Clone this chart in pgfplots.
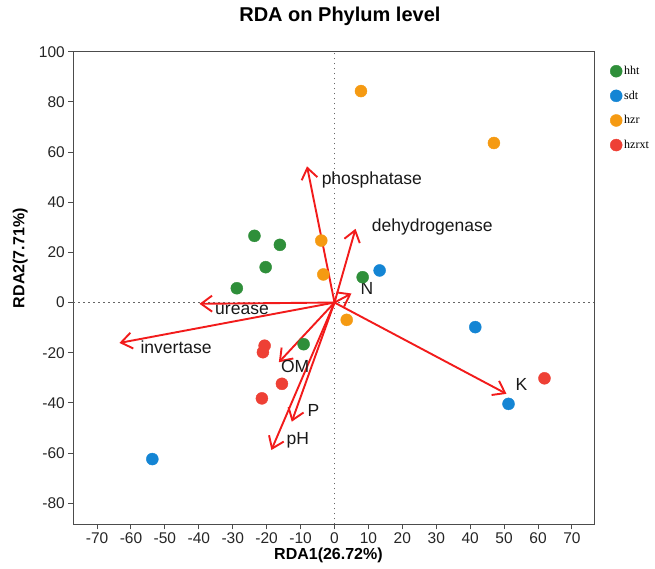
\documentclass[border=0pt]{standalone}
\usepackage{fontspec}
\setmainfont{Liberation Sans}
\newfontfamily\legfont{Liberation Serif}
\usepackage{pgfplots}
\pgfplotsset{compat=1.18}
\usetikzlibrary{arrows.meta}
\definecolor{cgreen}{HTML}{2F8F3A}
\definecolor{cblue}{HTML}{1485D4}
\definecolor{corange}{HTML}{F59A12}
\definecolor{cred}{HTML}{EE4035}
\definecolor{arrred}{HTML}{F21B1B}
\begin{document}
\begin{tikzpicture}[x=1pt,y=1pt,
  lab/.style={font=\fontsize{17.5}{20}\selectfont, text=black!90}]
\useasboundingbox (-73.3,-44.7) rectangle (581.7,524.3);
\begin{axis}[
  scale only axis, width=520.7pt, height=472.6pt,
  at={(0,0)}, anchor=south west,
  xmin=-77, xmax=76.5, ymin=-88.4, ymax=100,
  xtick={-70,-60,...,70}, ytick={-80,-60,...,100},
  tick align=outside, tick pos=left, major tick length=5pt,
  axis line style={draw=black!70, line width=1pt},
  every tick/.style={black!70, line width=1pt},
  tick label style={font=\fontsize{15.5}{17}\selectfont, text=black!85},
  /pgf/number format/assume math mode=true,
  title={RDA on Phylum level},
  title style={at={(axis description cs:0.512,1.063)}, anchor=center, font=\bfseries\fontsize{20}{24}\selectfont},
  xlabel={RDA1(26.72\%)},
  ylabel={RDA2(7.71\%)},
  xlabel style={at={(axis description cs:0.49,-0.065)}, anchor=center, font=\bfseries\fontsize{16}{18}\selectfont},
  ylabel style={at={(axis description cs:-0.102,0.563)}, anchor=center, font=\bfseries\fontsize{16}{18}\selectfont},
  legend style={at={(axis description cs:1.025,0.978)}, anchor=north west, draw=none, fill=none,
    font=\legfont\fontsize{12}{14}\selectfont, row sep=10.8pt},
  legend cell align=left,
  arr/.style={arrred, line width=1.9pt, -{Straight Barb[length=11pt,width=16pt,line width=1.9pt]}, forget plot},
]
% reference lines
\addplot[forget plot, black!60, line width=1.5pt, dash pattern=on 1.6pt off 3.4pt] coordinates {(0,-88.4) (0,100)};
\addplot[forget plot, black!60, line width=1.5pt, dash pattern=on 1.6pt off 3.4pt] coordinates {(-77,0) (76.5,0)};
% environmental arrows
\addplot[arr] coordinates {(0,0) (-8.1,54.3)};
\addplot[arr] coordinates {(0,0) (6.2,29.4)};
\addplot[arr] coordinates {(0,0) (5.0,3.6)};
\addplot[arr] coordinates {(0,0) (-39.8,-0.5)};
\addplot[arr] coordinates {(0,0) (-63.4,-16.1)};
\addplot[arr] coordinates {(0,0) (-16.4,-23.8)};
\addplot[arr] coordinates {(0,0) (-12.6,-47.5)};
\addplot[arr] coordinates {(0,0) (-18.6,-58.8)};
\addplot[arr] coordinates {(0,0) (50.7,-36.4)};
% samples
\addplot[only marks, mark=*, mark size=6pt, mark options={draw=cgreen, fill=cgreen}] coordinates {
 (-23.6,26.6) (-16.1,23.0) (-20.3,14.1) (-28.8,5.7) (8.3,10.1) (-9.1,-16.6)};
\addlegendentry{hht}
\addplot[only marks, mark=*, mark size=6pt, mark options={draw=cblue, fill=cblue}] coordinates {
 (13.3,12.8) (41.5,-9.8) (51.3,-40.4) (-53.7,-62.4)};
\addlegendentry{sdt}
\addplot[only marks, mark=*, mark size=6pt, mark options={draw=corange, fill=corange}] coordinates {
 (7.8,84.3) (47.0,63.6) (-3.9,24.7) (-3.3,11.2) (3.6,-6.9)};
\addlegendentry{hzr}
\addplot[only marks, mark=*, mark size=6pt, mark options={draw=cred, fill=cred}] coordinates {
 (61.9,-30.2) (-20.6,-17.2) (-21.1,-19.8) (-15.5,-32.4) (-21.4,-38.2)};
\addlegendentry{hzrxt}
% arrow labels
\node[lab, anchor=west] at (axis cs:-4.8,48.9) {phosphatase};
\node[lab, anchor=west] at (axis cs:10.0,30.3) {dehydrogenase};
\node[lab] at (axis cs:9.6,5.5) {N};
\node[lab, anchor=west] at (axis cs:-36.2,-2.9) {urease};
\node[lab, anchor=west] at (axis cs:-58.2,-17.8) {invertase};
\node[lab] at (axis cs:-11.6,-25.5) {OM};
\node[lab] at (axis cs:-6.2,-43.1) {P};
\node[lab] at (axis cs:-10.8,-54.8) {pH};
\node[lab] at (axis cs:55.1,-32.8) {K};
\end{axis}
\end{tikzpicture}
\end{document}
